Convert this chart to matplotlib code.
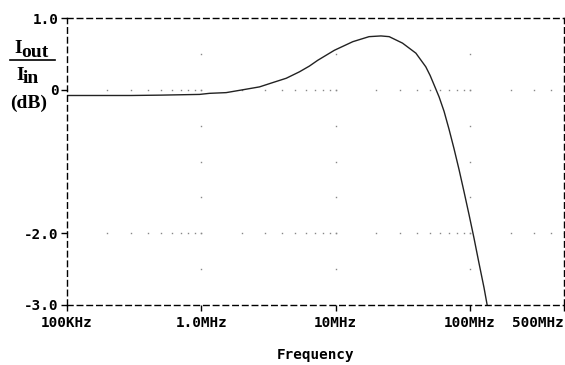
import numpy as np
import matplotlib
matplotlib.use("Agg")
from matplotlib import pyplot as plt

# frequency response
freq_hz = [1e5, 3e5, 5e5, 9.7e5, 1.15e6, 1.53e6, 2.04e6, 2.71e6, 3.4e6, 4.28e6,
           5.37e6, 6.37e6, 7.34e6, 9.77e6, 1.34e7, 1.77e7, 2.17e7, 2.5e7,
           3.14e7, 3.95e7, 4.68e7, 5.04e7, 5.39e7, 5.88e7, 6.4e7, 6.97e7,
           7.59e7, 8.27e7, 9.01e7, 9.82e7, 1.07e8, 1.16e8, 1.27e8, 1.34e8]
gain_db = [-0.08, -0.08, -0.075, -0.065, -0.05, -0.04, 0.0, 0.04, 0.10, 0.16,
           0.25, 0.33, 0.41, 0.55, 0.67, 0.74, 0.75, 0.74,
           0.65, 0.51, 0.32, 0.20, 0.07, -0.10, -0.30, -0.55,
           -0.82, -1.11, -1.42, -1.74, -2.07, -2.40, -2.76, -3.0]

x_ticks = [1e5, 1e6, 1e7, 1e8, 5e8]
x_labels = ['100KHz', '1.0MHz', '10MHz', '100MHz', '500MHz']
y_ticks = [1.0, 0.0, -2.0, -3.0]
y_labels = ['1.0', '0', '-2.0', '-3.0']

mono = {'family': 'DejaVu Sans Mono', 'weight': 'bold', 'size': 10.3}

fig = plt.figure(figsize=(5.65, 3.65), dpi=100)
ax = fig.add_axes([67/565, 60/365, 497/565, 287/365])

# dotted grid: decade verticals and rows at 0 / -2
for d in [1e6, 1e7, 1e8]:
    ys = np.arange(-2.5, 0.51, 0.5)
    ax.plot([d]*len(ys), ys, ls='none', marker='s', ms=1.0, color='#888888', mew=0)
minor_x = [k * 10**e for e in range(5, 9) for k in range(1, 10) if k * 10**e <= 5e8]
for yy in [0.0, -2.0]:
    ax.plot(minor_x, [yy]*len(minor_x), ls='none', marker='s', ms=1.0, color='#888888', mew=0)

ax.plot(freq_hz, gain_db, color='#222222', lw=1.0)

ax.set_xscale('log')
ax.set_xlim(1e5, 5e8)
ax.set_ylim(-3.0, 1.0)
ax.set_xticks(x_ticks)
ax.set_xticklabels(x_labels, fontdict=mono)
ax.get_xticklabels()[-1].set_horizontalalignment('right')
ax.xaxis.set_minor_locator(matplotlib.ticker.NullLocator())
ax.set_yticks(y_ticks)
ax.set_yticklabels(y_labels, fontdict=mono)
ax.tick_params(direction='out', length=4, width=1, color='black', pad=2)
ax.tick_params(axis='x', pad=4)

for s in ax.spines.values():
    s.set_linestyle((0, (4, 3)))
    s.set_linewidth(1.0)
    s.set_color('black')

fig.text(316/565, 1 - 355/365, 'Frequency', ha='center', va='center', fontdict=mono)

# y label drawn as a fraction I_out / I_in
serif = {'family': 'Liberation Serif', 'weight': 'bold', 'size': 14}
def put(x, y, s):
    fig.text(x/565, 1 - y/365, s, ha='left', va='baseline', fontdict=serif)

put(14, 53, 'I')
put(21, 57, 'out')
fig.add_artist(plt.Line2D([10/565, 55/565], [1 - 60/365, 1 - 60/365], color='black', lw=1.2))
put(16, 80, 'I')
put(23, 83, 'in')
put(10, 108, '(dB)')

fig.savefig('out.png', dpi=100)
